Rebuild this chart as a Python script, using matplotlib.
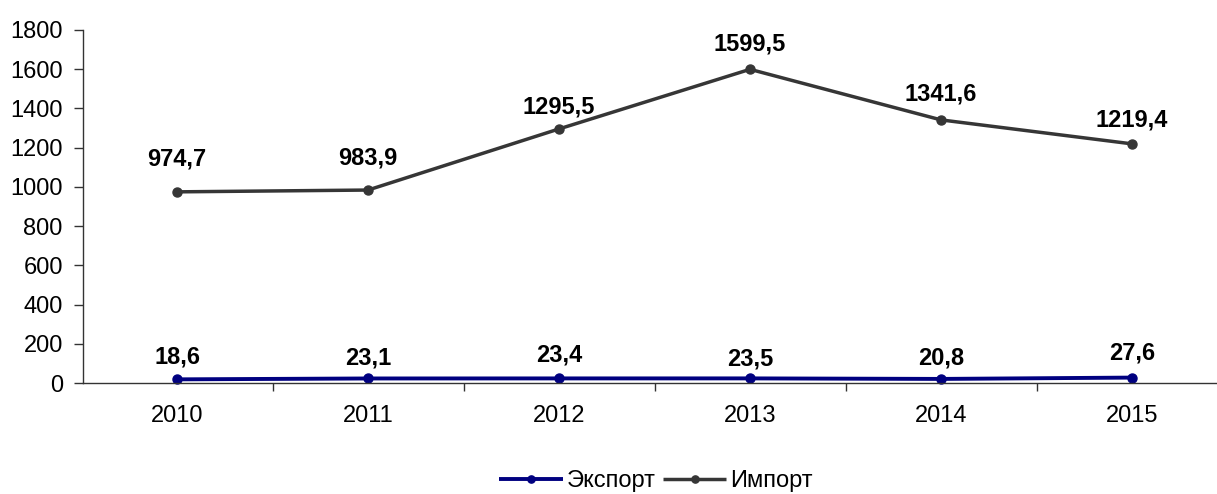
import matplotlib.pyplot as plt
from matplotlib.ticker import FixedLocator, NullFormatter

plt.rcParams['font.family'] = ['Liberation Sans', 'DejaVu Sans']

years = ['2010', '2011', '2012', '2013', '2014', '2015']
export_vals = [18.6, 23.1, 23.4, 23.5, 20.8, 27.6]
import_vals = [974.7, 983.9, 1295.5, 1599.5, 1341.6, 1219.4]
y_ticks = [0, 200, 400, 600, 800, 1000, 1200, 1400, 1600, 1800]

# label lift above each point, in points (like excel places them)
export_dy = [16, 15, 17, 14, 15, 18]
import_dy = [24, 23, 16, 18, 19, 17]


def fmt(v):
    return ('%.1f' % v).replace('.', ',')


fig = plt.figure(figsize=(12.17, 4.94), dpi=100)
ax = fig.add_axes([83 / 1217, 111 / 494, 1 - 83 / 1217, 353 / 494])

x = list(range(len(years)))
ln1, = ax.plot(x, export_vals, color='#000080', lw=2.8, marker='o', ms=6.5,
               solid_capstyle='butt', clip_on=False, label='Экспорт')
ln2, = ax.plot(x, import_vals, color='#363636', lw=2.5, marker='o', ms=6.5,
               solid_capstyle='butt', clip_on=False, label='Импорт')

for i in x:
    ax.annotate(fmt(export_vals[i]), (i, export_vals[i]), xytext=(0, export_dy[i]),
                textcoords='offset points', ha='center', va='center',
                fontsize=17, fontweight='bold')
    ax.annotate(fmt(import_vals[i]), (i, import_vals[i]), xytext=(0, import_dy[i]),
                textcoords='offset points', ha='center', va='center',
                fontsize=17, fontweight='bold')

ax.set_ylim(0, 1800)
ax.set_yticks(y_ticks)
ax.set_xlim((83 - 177) / 191, (1217 - 177) / 191)
ax.set_xticks(x)
ax.set_xticklabels(years)
ax.xaxis.set_minor_locator(FixedLocator([i + 0.5 for i in range(-1, len(years))]))
ax.xaxis.set_minor_formatter(NullFormatter())
ax.tick_params(axis='x', which='major', length=0, pad=16, labelsize=17)
ax.tick_params(axis='x', which='minor', length=6, width=1, color='#333333', direction='out')
ax.tick_params(axis='y', length=6.5, width=1, color='#333333', pad=8, labelsize=17)

for s in ['top', 'right']:
    ax.spines[s].set_visible(False)
for s in ['left', 'bottom']:
    ax.spines[s].set_color('#333333')
    ax.spines[s].set_linewidth(1)

fig.legend(handles=[ln1, ln2], loc='center', bbox_to_anchor=(0.539, 0.026), ncol=2,
           frameon=False, fontsize=17, handlelength=2.7, handletextpad=0.15,
           columnspacing=0.3, markerscale=0.8, borderpad=0)

fig.savefig('out.png', dpi=100)
